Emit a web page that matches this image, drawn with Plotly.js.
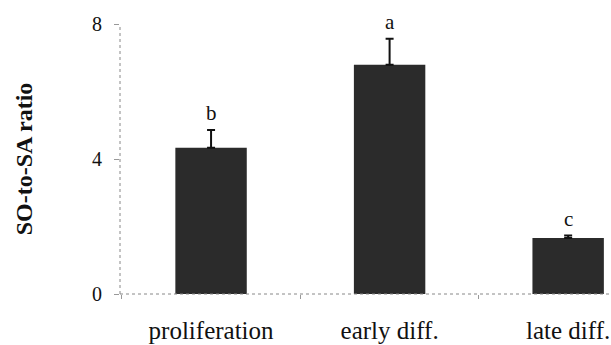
<!DOCTYPE html>
<html>
<head>
<meta charset="utf-8">
<script src="https://cdn.plot.ly/plotly-3.0.1.min.js"></script>
<style>html,body{margin:0;padding:0;background:#fff;}#chart{width:611px;height:345px;}</style>
</head>
<body>
<div id="chart"></div>
<script>
const categories = ["proliferation", "early diff.", "late diff."];
const ratioValues = [4.33, 6.79, 1.66];
const ratioErrors = [0.53, 0.77, 0.07];
const groupLetters = ["b", "a", "c"];
const yTickValues = [0, 4, 8];

const serif = '"Liberation Serif", "Times New Roman", Times, serif';

const trace = {
  type: "bar",
  x: categories,
  y: ratioValues,
  width: 0.4,
  marker: {color: "#2b2b2b", line: {width: 0}},
  error_y: {
    type: "data",
    symmetric: false,
    array: ratioErrors,
    arrayminus: ratioErrors.map(() => 0),
    color: "#111",
    thickness: 2,
    width: 4
  },
  hoverinfo: "none"
};

const annotations = categories.map((c, i) => ({
  x: c,
  y: ratioValues[i] + ratioErrors[i],
  xref: "x",
  yref: "y",
  text: groupLetters[i],
  showarrow: false,
  yanchor: "bottom",
  yshift: 3,
  font: {family: serif, size: 21, color: "#111"}
}));

const layout = {
  width: 611,
  height: 345,
  margin: {l: 120, r: 0, t: 24, b: 51},
  paper_bgcolor: "#fff",
  plot_bgcolor: "#fff",
  showlegend: false,
  font: {family: serif},
  xaxis: {
    type: "category",
    range: [-0.51, 2.24],
    showline: false,
    showgrid: false,
    zeroline: false,
    ticks: "outside",
    tickson: "boundaries",
    ticklen: 4,
    tickcolor: "#999",
    tickwidth: 1,
    ticklabelstandoff: 19,
    tickfont: {family: serif, size: 25, color: "#111"}
  },
  yaxis: {
    range: [0, 8],
    tickvals: yTickValues,
    ticktext: yTickValues.map(String),
    showline: false,
    showgrid: false,
    zeroline: false,
    ticks: "outside",
    ticklen: 5,
    tickcolor: "#999",
    tickwidth: 1,
    ticklabelstandoff: 8,
    tickfont: {family: serif, size: 20, color: "#111"},
    title: {
      text: "<b>SO-to-SA ratio</b>",
      font: {family: serif, size: 24, color: "#111"},
      standoff: 52
    }
  },
  shapes: [
    {type: "line", xref: "paper", yref: "paper", x0: 0, x1: 0, y0: 0, y1: 1,
     line: {color: "#888", width: 1, dash: "dot"}},
    {type: "line", xref: "paper", yref: "paper", x0: 0, x1: 1, y0: 0, y1: 0,
     line: {color: "#888", width: 1, dash: "dot"}}
  ],
  annotations: annotations
};

Plotly.newPlot("chart", [trace], layout, {staticPlot: true, displayModeBar: false});
</script>
</body>
</html>
